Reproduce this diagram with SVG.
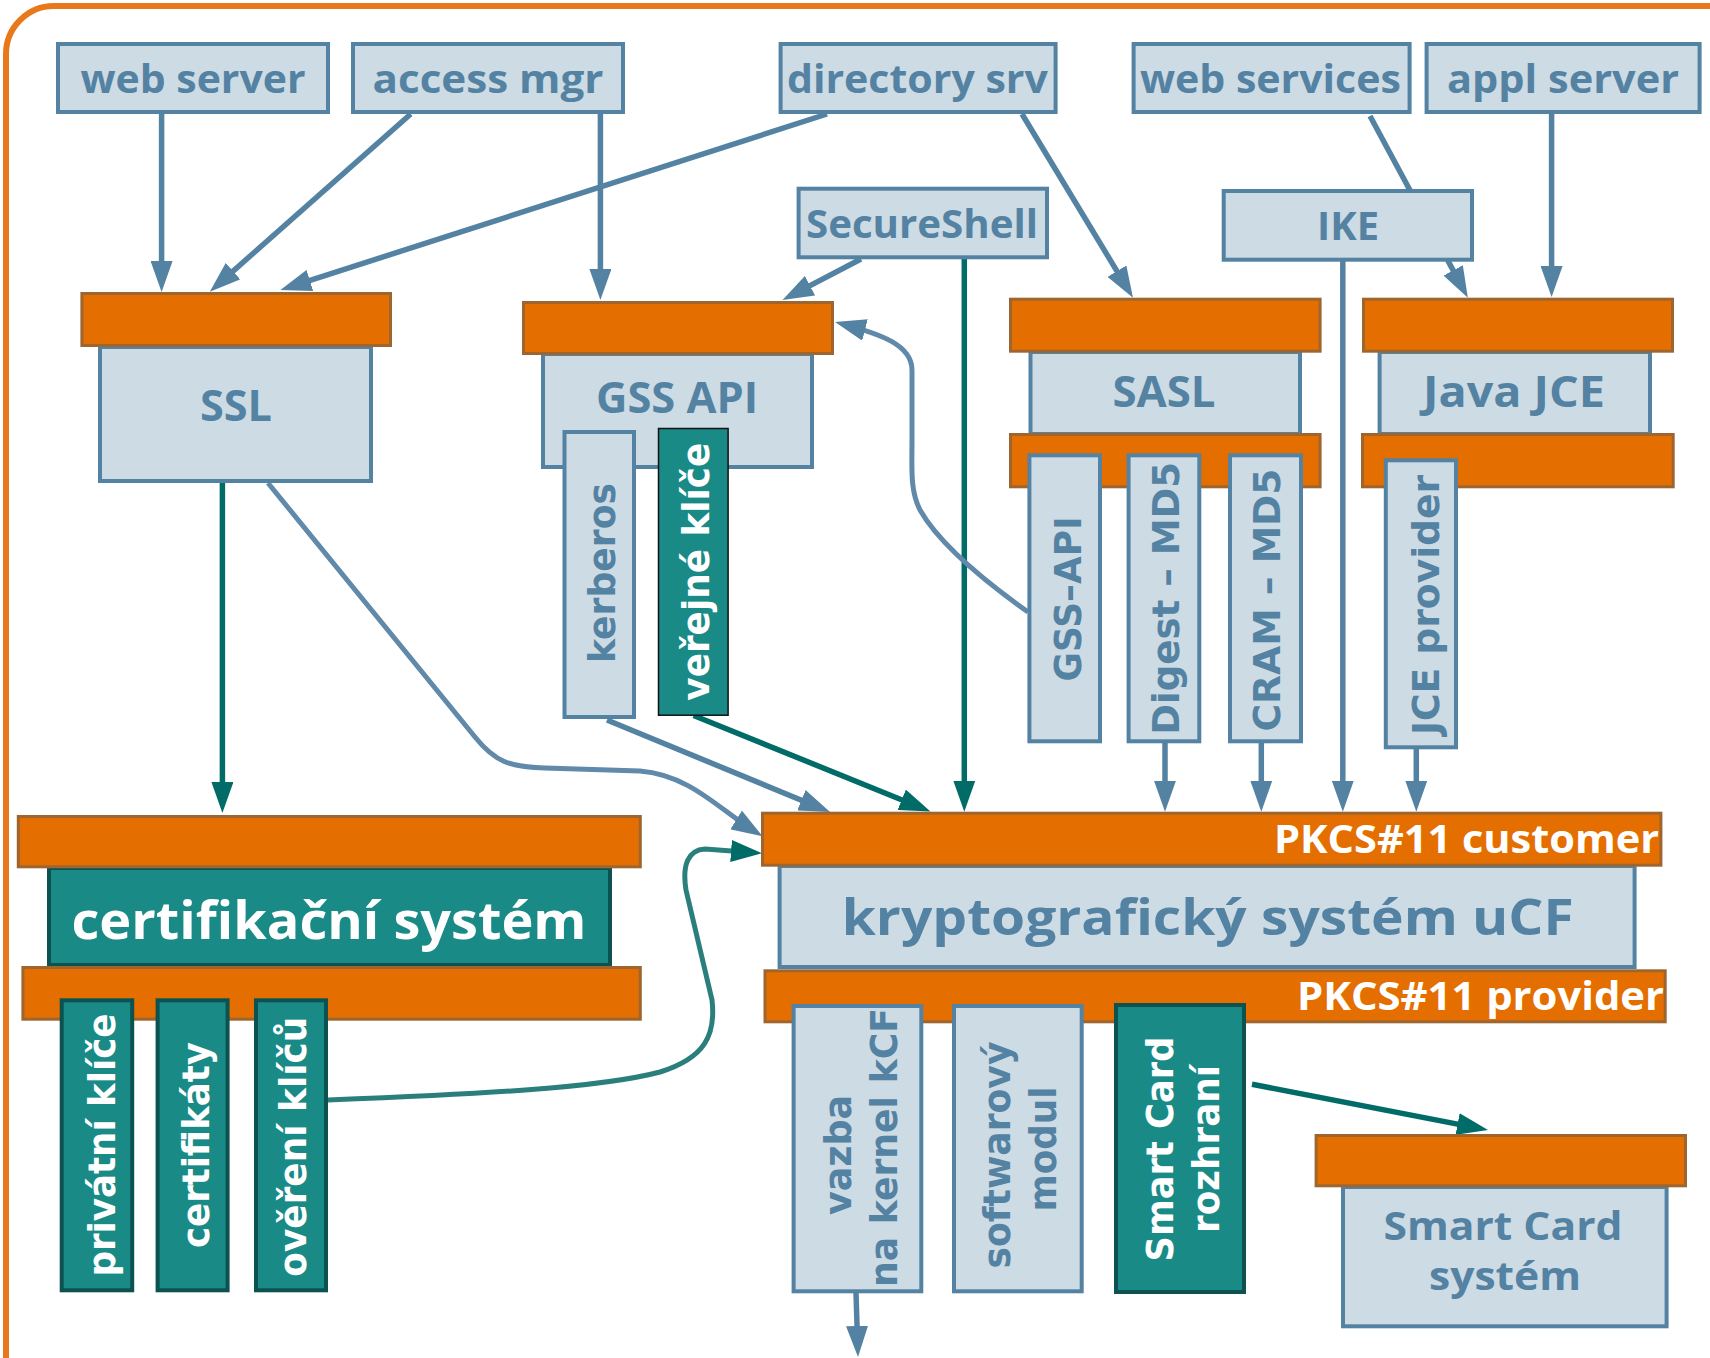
<svg xmlns="http://www.w3.org/2000/svg" width="1710" height="1358" viewBox="0 0 1710 1358">
  <defs>
    <style>
      .box{fill:#cddbe4;stroke:#5482a2;stroke-width:4}
      .bar{fill:#e46f00;stroke:#9e652f;stroke-width:3}
      .teal{fill:#1a8a87;stroke:#0b5250;stroke-width:4}
      .lbl{font-family:"Open Sans","Liberation Sans",sans-serif;font-weight:700;fill:#5482a2;text-anchor:middle}
      .vt{font-family:"DejaVu Sans","Liberation Sans",sans-serif;font-weight:bold;font-size:38px;fill:#5482a2;text-anchor:middle}
      text.wl{fill:#ffffff}
      .end{text-anchor:end}
      .c{fill:none;stroke:#5482a2;stroke-width:5.5}
      .ct{fill:none;stroke:#006b67;stroke-width:5.5}
      .cv{fill:none;stroke:#6089aa;stroke-width:5}
      .cvt{fill:none;stroke:#2a7f7c;stroke-width:5}
    </style>
    <marker id="ab" markerUnits="userSpaceOnUse" markerWidth="32" markerHeight="22" refX="21" refY="11" orient="auto">
      <path d="M0,0 L31,11 L0,22 z" fill="#5482a2"/>
    </marker>
    <marker id="at" markerUnits="userSpaceOnUse" markerWidth="32" markerHeight="22" refX="21" refY="11" orient="auto">
      <path d="M0,0 L31,11 L0,22 z" fill="#006b67"/>
    </marker>
  </defs>

  <rect width="1710" height="1358" fill="#ffffff"/>
  <!-- outer frame -->
  <path d="M6,1358 L6,54 A48,48 0 0 1 54,6 L1710,6" fill="none" stroke="#e8781a" stroke-width="6"/>

  <g id="connectors">
    <path class="c" d="M161.6,114 L161.6,282" marker-end="url(#ab)"/>
    <path class="c" d="M410.7,114 L217.3,285.1" marker-end="url(#ab)"/>
    <path class="c" d="M600.4,114 L600.4,290" marker-end="url(#ab)"/>
    <path class="c" d="M827,114 L289.9,286.9" marker-end="url(#ab)"/>
    <path class="c" d="M1022,114 L1127.8,289.1" marker-end="url(#ab)"/>
    <path class="c" d="M861,259 L791.4,295.4" marker-end="url(#ab)"/>
    <path class="c" d="M1370,116 L1463.1,288.9" marker-end="url(#ab)"/>
    <path class="c" d="M1551.6,114 L1551.6,287" marker-end="url(#ab)"/>
    <path class="ct" d="M964.3,259 L964.3,801.7" marker-end="url(#at)"/>
    <path class="c" d="M1342.8,261 L1342.8,801.7" marker-end="url(#ab)"/>
    <path class="c" d="M1165,743 L1165,801.7" marker-end="url(#ab)"/>
    <path class="c" d="M1261.3,743 L1261.3,801.7" marker-end="url(#ab)"/>
    <path class="c" d="M1416.3,749 L1416.3,801.7" marker-end="url(#ab)"/>
    <path class="c" d="M607,720 L820.8,808.2" marker-end="url(#ab)"/>
    <path class="ct" d="M693.6,715.5 L921.2,807.7" marker-end="url(#at)"/>
    <path class="ct" d="M222.4,483 L222.4,803" marker-end="url(#at)"/>
    <path class="ct" d="M1252,1084.3 L1478.2,1128.1" marker-end="url(#at)"/>
    <path class="c" d="M856,1293 L857.7,1347" marker-end="url(#ab)"/>
    <path class="cv" d="M268,483 L475,737 C495,762 510,767 545,768 L640,771 C690,775 720,810 754,831" marker-end="url(#ab)"/>
    <path class="cv" d="M1028,612 C990,585 940,545 920,510 C910,490 912,470 912,440 L912,370 C912,345 880,334 844.7,324.6" marker-end="url(#ab)"/>
    <path class="cvt" d="M328,1100 C480,1094 600,1088 660,1072 C705,1058 716,1035 712,1000 L686,890 C682,865 688,850 705,849 L752,852.5" marker-end="url(#at)"/>
  </g>

  <g id="web-server"><rect class="box" x="58" y="44" width="270" height="68"/><text class="lbl" x="193" y="93" font-size="40" textLength="225" lengthAdjust="spacingAndGlyphs">web server</text></g>
  <g id="access-mgr"><rect class="box" x="353" y="44" width="270" height="68"/><text class="lbl" x="488" y="93" font-size="40" textLength="231" lengthAdjust="spacingAndGlyphs">access mgr</text></g>
  <g id="directory-srv"><rect class="box" x="780.6" y="44" width="275" height="68"/><text class="lbl" x="917.4" y="93" font-size="40" textLength="261" lengthAdjust="spacingAndGlyphs">directory srv</text></g>
  <g id="web-services"><rect class="box" x="1133.6" y="44" width="276" height="68"/><text class="lbl" x="1270.4" y="93" font-size="40" textLength="261" lengthAdjust="spacingAndGlyphs">web services</text></g>
  <g id="appl-server"><rect class="box" x="1426.6" y="44" width="273" height="68"/><text class="lbl" x="1563" y="93" font-size="40" textLength="232" lengthAdjust="spacingAndGlyphs">appl server</text></g>
  <g id="secureshell"><rect class="box" x="798.6" y="188.7" width="248.4" height="68.6"/><text class="lbl" x="922" y="238" font-size="40" textLength="232" lengthAdjust="spacingAndGlyphs">SecureShell</text></g>
  <g id="ike"><rect class="box" x="1223.7" y="191" width="248.3" height="68.7"/><text class="lbl" x="1348" y="240" font-size="40" textLength="62" lengthAdjust="spacingAndGlyphs">IKE</text></g>

  <g id="ssl">
    <rect class="box" x="100" y="347" width="271" height="134"/>
    <rect class="bar" x="81.9" y="293.5" width="308.6" height="52"/>
    <text class="lbl" x="236" y="421" font-size="43" textLength="72" lengthAdjust="spacingAndGlyphs">SSL</text>
  </g>

  <g id="gss-api">
    <rect class="box" x="543" y="354" width="269" height="113"/>
    <rect class="bar" x="523.5" y="302.5" width="309" height="51"/>
    <text class="lbl" x="677" y="413" font-size="43" textLength="162" lengthAdjust="spacingAndGlyphs">GSS API</text>
  </g>
  <g id="kerberos">
    <rect class="box" x="564.5" y="432" width="69.5" height="285"/>
    <text class="vt" transform="translate(614.8,573) rotate(-90)" textLength="180" lengthAdjust="spacingAndGlyphs">kerberos</text>
  </g>
  <g id="verejne-klice">
    <rect x="658.5" y="428.5" width="69.6" height="286.7" fill="#1a8a87" stroke="#111111" stroke-width="1.5"/>
    <text class="vt wl" transform="translate(709,571.7) rotate(-90)" textLength="258" lengthAdjust="spacingAndGlyphs">veřejné klíče</text>
  </g>

  <g id="sasl">
    <rect class="box" x="1030.5" y="352" width="269.5" height="82"/>
    <rect class="bar" x="1010.5" y="299.2" width="309.6" height="52"/>
    <rect class="bar" x="1010.5" y="434.5" width="309.6" height="52.3"/>
    <text class="lbl" x="1164" y="407" font-size="43" textLength="103" lengthAdjust="spacingAndGlyphs">SASL</text>
  </g>
  <g id="sasl-gss-api">
    <rect class="box" x="1029.4" y="455.3" width="70.6" height="286"/>
    <text class="vt" transform="translate(1080.7,599) rotate(-90)" textLength="165" lengthAdjust="spacingAndGlyphs">GSS–API</text>
  </g>
  <g id="digest-md5">
    <rect class="box" x="1128.6" y="455.3" width="70.7" height="286"/>
    <text class="vt" transform="translate(1178.7,598.3) rotate(-90)" textLength="273" lengthAdjust="spacingAndGlyphs">Digest – MD5</text>
  </g>
  <g id="cram-md5">
    <rect class="box" x="1230" y="455.3" width="71" height="286"/>
    <text class="vt" transform="translate(1279.7,600) rotate(-90)" textLength="263" lengthAdjust="spacingAndGlyphs">CRAM – MD5</text>
  </g>

  <g id="java-jce">
    <rect class="box" x="1379.6" y="352" width="270.4" height="82"/>
    <rect class="bar" x="1363.5" y="299.2" width="309" height="52"/>
    <rect class="bar" x="1362.5" y="434.5" width="310.7" height="52.3"/>
    <text class="lbl" x="1514" y="407" font-size="43" textLength="182" lengthAdjust="spacingAndGlyphs">Java JCE</text>
  </g>
  <g id="jce-provider">
    <rect class="box" x="1385.8" y="460.3" width="70.2" height="287"/>
    <text class="vt" transform="translate(1439,605) rotate(-90)" textLength="260" lengthAdjust="spacingAndGlyphs">JCE provider</text>
  </g>

  <g id="ucf">
    <rect class="box" x="779.6" y="866" width="855" height="101"/>
    <rect class="bar" x="762.5" y="813.2" width="898.4" height="52"/>
    <rect class="bar" x="765" y="970.8" width="900.2" height="51"/>
    <text class="lbl wl end" x="1659" y="853" font-size="39" textLength="385" lengthAdjust="spacingAndGlyphs">PKCS#11 customer</text>
    <text class="lbl" x="1207.7" y="935" font-size="50" textLength="732" lengthAdjust="spacingAndGlyphs">kryptografický systém uCF</text>
    <text class="lbl wl end" x="1664" y="1010" font-size="39" textLength="367" lengthAdjust="spacingAndGlyphs">PKCS#11 provider</text>
  </g>
  <g id="vazba-kcf">
    <rect class="box" x="793.6" y="1006" width="127.7" height="285.3"/>
    <text class="vt" transform="translate(851,1155) rotate(-90)" textLength="120" lengthAdjust="spacingAndGlyphs">vazba</text>
    <text class="vt" transform="translate(897,1147.5) rotate(-90)" textLength="279" lengthAdjust="spacingAndGlyphs">na kernel kCF</text>
  </g>
  <g id="softwarovy-modul">
    <rect class="box" x="954" y="1006" width="127.7" height="285.3"/>
    <text class="vt" transform="translate(1010,1155) rotate(-90)" textLength="227" lengthAdjust="spacingAndGlyphs">softwarový</text>
    <text class="vt" transform="translate(1056,1149) rotate(-90)" textLength="125" lengthAdjust="spacingAndGlyphs">modul</text>
  </g>
  <g id="smart-card-rozhrani">
    <rect class="teal" x="1116" y="1005" width="128" height="287"/>
    <text class="vt wl" transform="translate(1172.5,1149) rotate(-90)" textLength="225" lengthAdjust="spacingAndGlyphs">Smart Card</text>
    <text class="vt wl" transform="translate(1218.5,1149) rotate(-90)" textLength="168" lengthAdjust="spacingAndGlyphs">rozhraní</text>
  </g>
  <g id="smart-card-system">
    <rect class="box" x="1343" y="1187" width="323.6" height="139.3"/>
    <rect class="bar" x="1316.1" y="1135.5" width="369.4" height="50.3"/>
    <text class="lbl" x="1503" y="1240" font-size="40" textLength="239" lengthAdjust="spacingAndGlyphs">Smart Card</text>
    <text class="lbl" x="1505" y="1290" font-size="40" textLength="152" lengthAdjust="spacingAndGlyphs">systém</text>
  </g>

  <g id="certifikacni-system">
    <rect class="teal" x="49" y="868" width="561" height="97"/>
    <rect class="bar" x="18.3" y="816.5" width="622" height="50.3"/>
    <rect class="bar" x="22.9" y="967.5" width="617.4" height="51.7"/>
    <text class="lbl wl" x="329" y="939" font-size="52" textLength="515" lengthAdjust="spacingAndGlyphs">certifikační systém</text>
  </g>
  <g id="privatni-klice">
    <rect class="teal" x="61.7" y="1000.3" width="70.5" height="290"/>
    <text class="vt wl" transform="translate(114.8,1145) rotate(-90)" textLength="263" lengthAdjust="spacingAndGlyphs">privátní klíče</text>
  </g>
  <g id="certifikaty">
    <rect class="teal" x="157.6" y="1000.3" width="70" height="290"/>
    <text class="vt wl" transform="translate(209,1145) rotate(-90)" textLength="206" lengthAdjust="spacingAndGlyphs">certifikáty</text>
  </g>
  <g id="overeni-klicu">
    <rect class="teal" x="256" y="1000.3" width="70" height="290"/>
    <text class="vt wl" transform="translate(306,1146.7) rotate(-90)" textLength="260" lengthAdjust="spacingAndGlyphs">ověření klíčů</text>
  </g>
</svg>
